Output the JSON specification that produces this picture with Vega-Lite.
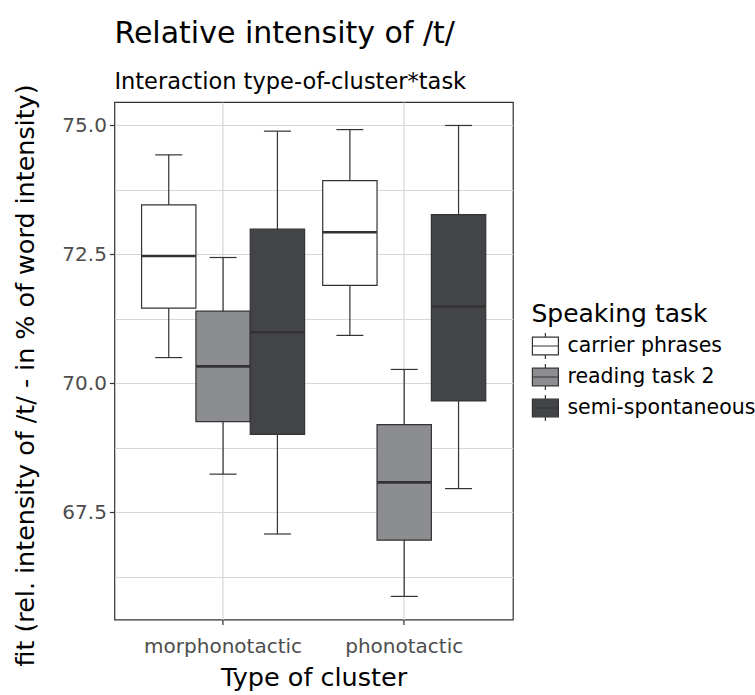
{
  "$schema": "https://vega.github.io/schema/vega-lite/v6.json",
  "width": 398.5,
  "height": 517.6,
  "autosize": {"type": "none"},
  "padding": {"left": 114.4, "top": 102, "right": 242.1, "bottom": 75.4},
  "background": "white",
  "config": {
    "font": "DejaVu Sans",
    "view": {"stroke": "#333333", "strokeWidth": 1.2},
    "axis": {
      "labelFont": "DejaVu Sans",
      "titleFont": "DejaVu Sans",
      "labelColor": "#4d4d4d",
      "titleColor": "#000000",
      "titleFontWeight": "normal",
      "tickColor": "#333333",
      "gridColor": "#d6d6d6",
      "domain": false
    },
    "legend": {
      "titleFont": "DejaVu Sans",
      "labelFont": "DejaVu Sans",
      "titleFontWeight": "normal"
    }
  },
  "title": {
    "text": "Relative intensity of /t/",
    "subtitle": "Interaction type-of-cluster*task",
    "anchor": "start",
    "frame": "group",
    "font": "DejaVu Sans",
    "fontSize": 30,
    "fontWeight": "normal",
    "color": "#000000",
    "subtitleFont": "DejaVu Sans",
    "subtitleFontSize": 22.5,
    "subtitleColor": "#000000",
    "subtitlePadding": 22,
    "offset": -10
  },
  "data": {
    "values": [
      {"cluster": "morphonotactic", "task": "carrier phrases", "lower": 70.50, "q1": 71.46, "median": 72.47, "q3": 73.46, "upper": 74.43},
      {"cluster": "morphonotactic", "task": "reading task 2", "lower": 68.24, "q1": 69.26, "median": 70.33, "q3": 71.40, "upper": 72.44},
      {"cluster": "morphonotactic", "task": "semi-spontaneous", "lower": 67.08, "q1": 69.01, "median": 70.99, "q3": 72.99, "upper": 74.89},
      {"cluster": "phonotactic", "task": "carrier phrases", "lower": 70.93, "q1": 71.90, "median": 72.93, "q3": 73.93, "upper": 74.92},
      {"cluster": "phonotactic", "task": "reading task 2", "lower": 65.87, "q1": 66.96, "median": 68.08, "q3": 69.20, "upper": 70.27},
      {"cluster": "phonotactic", "task": "semi-spontaneous", "lower": 67.96, "q1": 69.66, "median": 71.49, "q3": 73.27, "upper": 75.00}
    ]
  },
  "encoding": {
    "x": {
      "field": "cluster",
      "type": "nominal",
      "scale": {"paddingInner": 0.1, "paddingOuter": 0.15},
      "axis": {
        "title": "Type of cluster",
        "titleFontSize": 25.5,
        "titlePadding": 9,
        "labelFontSize": 20,
        "labelAngle": 0,
        "labelPadding": 12,
        "tickSize": 5,
        "tickWidth": 1.2,
        "grid": true,
        "gridWidth": 1.2,
        "bandPosition": 0.5
      }
    },
    "xOffset": {
      "field": "task",
      "type": "nominal",
      "scale": {"paddingInner": 0, "paddingOuter": 0}
    }
  },
  "layer": [
    {
      "mark": {"type": "rule", "color": "#333333", "strokeWidth": 1.2},
      "encoding": {
        "y": {
          "field": "lower",
          "type": "quantitative",
          "scale": {"domain": [65.42, 75.455], "nice": false, "zero": false},
          "axis": {
            "orient": "right",
            "title": null,
            "labels": false,
            "ticks": false,
            "grid": true,
            "gridWidth": 1,
            "values": [66.25, 68.75, 71.25, 73.75]
          }
        },
        "y2": {"field": "upper"}
      }
    },
    {
      "mark": {"type": "tick", "color": "#333333", "size": 27, "thickness": 1.2, "opacity": 1},
      "encoding": {
        "y": {"field": "upper", "type": "quantitative", "axis": null}
      }
    },
    {
      "mark": {"type": "tick", "color": "#333333", "size": 27, "thickness": 1.2, "opacity": 1},
      "encoding": {
        "y": {"field": "lower", "type": "quantitative", "axis": null}
      }
    },
    {
      "mark": {"type": "bar", "stroke": "#333333", "strokeWidth": 1.2, "opacity": 1},
      "encoding": {
        "y": {
          "field": "q1",
          "type": "quantitative",
          "axis": {
            "orient": "left",
            "title": "fit (rel. intensity of /t/ - in % of word intensity)",
            "titleFontSize": 25.4,
            "titlePadding": 23,
            "titleY": 273,
            "values": [67.5, 70, 72.5, 75],
            "format": ".1f",
            "labelFontSize": 20,
            "labelPadding": 3,
            "tickSize": 5,
            "tickWidth": 1.2,
            "grid": true,
            "gridWidth": 1.2
          }
        },
        "y2": {"field": "q3"},
        "fill": {
          "field": "task",
          "type": "nominal",
          "scale": {
            "domain": ["carrier phrases", "reading task 2", "semi-spontaneous"],
            "range": ["#ffffff", "#8c8d91", "#434447"]
          },
          "legend": {
            "title": "Speaking task",
            "orient": "none",
            "legendX": 417,
            "legendY": 200,
            "titleFontSize": 25,
            "titleColor": "#000000",
            "titlePadding": 5,
            "labelFontSize": 20.5,
            "labelColor": "#000000",
            "labelOffset": 8,
            "labelLimit": 0,
            "symbolType": "M-1,-0.68H1V0.68H-1Z M-1,0H1 M0,-0.68V-1 M0,0.68V1",
            "symbolSize": 676,
            "symbolStrokeColor": "#333333",
            "symbolStrokeWidth": 1.2,
            "symbolOpacity": 1,
            "rowPadding": -1
          }
        }
      }
    },
    {
      "mark": {"type": "tick", "color": "#333333", "size": 54, "thickness": 2.6, "opacity": 1},
      "encoding": {
        "y": {"field": "median", "type": "quantitative", "axis": null}
      }
    }
  ],
  "resolve": {"axis": {"y": "independent"}}
}
